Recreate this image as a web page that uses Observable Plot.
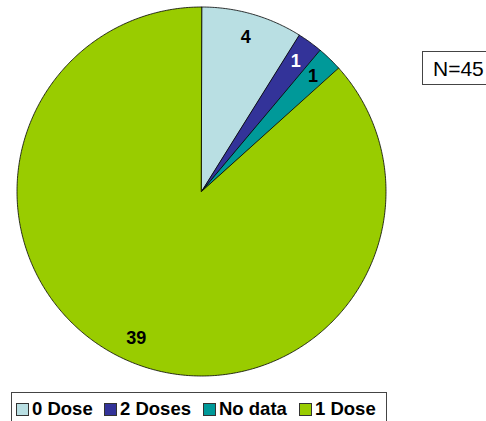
<!DOCTYPE html>
<html>
<head>
<meta charset="utf-8">
<script src="https://cdn.jsdelivr.net/npm/d3@7"></script>
<script src="https://cdn.jsdelivr.net/npm/@observablehq/plot@0.6"></script>
<style>
  html, body { margin: 0; padding: 0; background: #fff; overflow: hidden; }
  #wrap { position: relative; width: 486px; height: 421px; overflow: hidden; font-family: "Liberation Sans", Arial, sans-serif; }
  #chart { position: absolute; left: 0; top: 0; }
  #nbox { position: absolute; left: 422px; top: 51px; width: 80px; height: 34px; border: 1px solid #444; box-sizing: border-box; }
  #nbox span { position: absolute; left: 10px; top: 6px; font-size: 21px; line-height: 21px; color: #000; }
  #legend { position: absolute; left: 11px; top: 392px; width: 376px; height: 40px; border: 1px solid #444; box-sizing: border-box; }
  #legend .item { position: absolute; top: 6px; display: flex; align-items: center; font-weight: bold; font-size: 18.5px; line-height: 20px; color: #000; }
  #legend .sw { width: 13px; height: 13px; border: 1px solid #333; margin-right: 3px; box-sizing: border-box; }
</style>
</head>
<body>
<div id="wrap">
  <div id="chart"></div>
  <div id="nbox"><span id="ntext"></span></div>
  <div id="legend"></div>
</div>
<script>
// Data
const categories = ["0 Dose", "2 Doses", "No data", "1 Dose"];
const values = [4, 1, 1, 39];
const colors = ["#b9dfe3", "#333399", "#009999", "#99cc00"];
const labelColors = ["#000", "#fff", "#000", "#000"];
const totalLabel = "N=45";

// Build slice polygons in unit coordinates (clockwise from 12 o'clock)
const total = d3.sum(values);
let cum = 0;
const pts = [];
const labels = [];
categories.forEach((c, i) => {
  const a0 = cum / total * 2 * Math.PI;
  cum += values[i];
  const a1 = cum / total * 2 * Math.PI;
  pts.push({cat: c, x: 0, y: 0});
  const n = Math.max(2, Math.ceil((a1 - a0) / (Math.PI / 360)));
  for (let k = 0; k <= n; k++) {
    const a = a0 + (a1 - a0) * k / n;
    pts.push({cat: c, x: Math.sin(a), y: Math.cos(a)});
  }
  const am = (a0 + a1) / 2;
  labels.push({cat: c, value: values[i], x: 0.87 * Math.sin(am), y: 0.87 * Math.cos(am), color: labelColors[i]});
});

const cx = 201, cy = 191, R = 184.5;
const chart = Plot.plot({
  width: 486,
  height: 421,
  margin: 0,
  x: {domain: [-1, 1], range: [cx - R, cx + R], axis: null},
  y: {domain: [-1, 1], range: [cy + R, cy - R], axis: null},
  color: {domain: categories, range: colors},
  marks: [
    Plot.line(pts, {x: "x", y: "y", z: "cat", fill: "cat", stroke: "#000", strokeWidth: 0.8, curve: "linear-closed"}),
    Plot.text(labels.filter(d => d.color === "#000"), {x: "x", y: "y", text: d => String(d.value), fill: "#000", fontSize: 18, fontWeight: "bold", fontFamily: "Liberation Sans, Arial, sans-serif"}),
    Plot.text(labels.filter(d => d.color === "#fff"), {x: "x", y: "y", text: d => String(d.value), fill: "#fff", fontSize: 18, fontWeight: "bold", fontFamily: "Liberation Sans, Arial, sans-serif"})
  ]
});
document.getElementById("chart").appendChild(chart);
document.getElementById("ntext").textContent = totalLabel;

// Legend
const legendLefts = [4, 92, 191, 287];
const legend = document.getElementById("legend");
categories.forEach((c, i) => {
  const it = document.createElement("div");
  it.className = "item";
  it.style.left = legendLefts[i] + "px";
  const sw = document.createElement("div");
  sw.className = "sw";
  sw.style.background = colors[i];
  const t = document.createElement("span");
  t.textContent = c;
  it.appendChild(sw);
  it.appendChild(t);
  legend.appendChild(it);
});
</script>
</body>
</html>
